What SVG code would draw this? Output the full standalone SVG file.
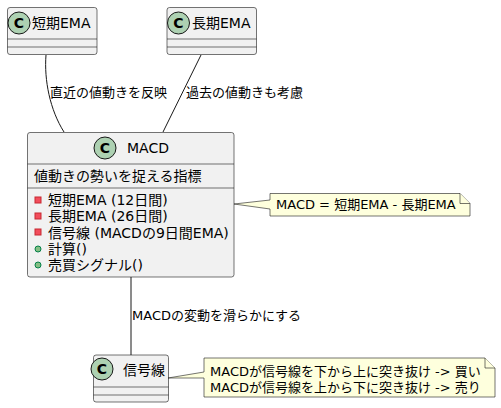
<svg xmlns="http://www.w3.org/2000/svg" width="501" height="408" viewBox="0 0 501 408">
<style>
text{font-family:"DejaVu Sans","Noto Sans CJK JP",sans-serif;fill:#000}
.box{fill:#F1F1F1;stroke:#181818;stroke-width:0.6}
.sep{stroke:#181818;stroke-width:0.6}
.ci{fill:#ADD1B2;stroke:#181818;stroke-width:1}
.cl{font-size:14px;font-weight:bold;text-anchor:middle}
.t14{font-size:14px}
.t13{font-size:13px}
.note{fill:#FEFFDD;stroke:#181818;stroke-width:0.6}
.edge{fill:none;stroke:#181818;stroke-width:1}
.priv{fill:#F24D5C;stroke:#C82930;stroke-width:1}
.pub{fill:#84BE84;stroke:#038048;stroke-width:1}
</style>
<g id="connectors">
<path class="edge" d="M46,55 C44,80 50,110 64,132"/>
<text class="t13" x="50" y="97">直近の値動きを反映</text>
<path class="edge" d="M201,55 L163,132"/>
<text class="t13" x="186" y="97">過去の値動きも考慮</text>
<path class="edge" d="M131,277 L131,355"/>
<text class="t13" x="132" y="320">MACDの変動を滑らかにする</text>
</g>
<g id="short-ema">
<rect class="box" x="7.5" y="7.5" width="89.5" height="47" rx="2.5"/>
<line class="sep" x1="7.5" y1="39" x2="97" y2="39"/>
<line class="sep" x1="7.5" y1="47" x2="97" y2="47"/>
<circle class="ci" cx="19" cy="23" r="11"/>
<text class="cl" x="19" y="28">C</text>
<text class="t14" x="32" y="28">短期EMA</text>
</g>
<g id="long-ema">
<rect class="box" x="167" y="7.5" width="89.5" height="47" rx="2.5"/>
<line class="sep" x1="167" y1="39" x2="256.5" y2="39"/>
<line class="sep" x1="167" y1="47" x2="256.5" y2="47"/>
<circle class="ci" cx="178.5" cy="23" r="11"/>
<text class="cl" x="178.5" y="28">C</text>
<text class="t14" x="192" y="28">長期EMA</text>
</g>
<g id="macd">
<rect class="box" x="27.5" y="132.5" width="206.5" height="144.5" rx="2.5"/>
<line class="sep" x1="27.5" y1="164" x2="234" y2="164"/>
<line class="sep" x1="27.5" y1="188" x2="234" y2="188"/>
<circle class="ci" cx="105" cy="148" r="11"/>
<text class="cl" x="105" y="153">C</text>
<text class="t14" x="127" y="153">MACD</text>
<text class="t14" x="34" y="181">値動きの勢いを捉える指標</text>
<rect class="priv" x="35" y="197" width="6" height="6"/>
<text class="t14" x="48" y="205">短期EMA (12日間)</text>
<rect class="priv" x="35" y="213" width="6" height="6"/>
<text class="t14" x="48" y="221">長期EMA (26日間)</text>
<rect class="priv" x="35" y="229" width="6" height="6"/>
<text class="t14" x="48" y="238">信号線 (MACDの9日間EMA)</text>
<circle class="pub" cx="38" cy="249" r="3"/>
<text class="t14" x="48" y="254">計算()</text>
<circle class="pub" cx="38" cy="265" r="3"/>
<text class="t14" x="48" y="270">売買シグナル()</text>
</g>
<g id="note1">
<path class="note" d="M270,193.5 L460,193.5 L470,203.5 L470,216 L270,216 L270,209 L234,204 L270,200 Z"/>
<path class="note" d="M460,193.5 L460,203.5 L470,203.5"/>
<text class="t13" x="276" y="209">MACD = 短期EMA - 長期EMA</text>
</g>
<g id="signal">
<rect class="box" x="93.5" y="355" width="75" height="47" rx="2.5"/>
<line class="sep" x1="93.5" y1="387" x2="168.5" y2="387"/>
<line class="sep" x1="93.5" y1="395" x2="168.5" y2="395"/>
<circle class="ci" cx="102" cy="369" r="11"/>
<text class="cl" x="102" y="374">C</text>
<text class="t14" x="123" y="375">信号線</text>
</g>
<g id="note2">
<path class="note" d="M204,358 L485,358 L495,368 L495,397 L204,397 L204,378 L168,378 L204,372 Z"/>
<path class="note" d="M485,358 L485,368 L495,368"/>
<text class="t13" x="210" y="376">MACDが信号線を下から上に突き抜け -&gt; 買い</text>
<text class="t13" x="210" y="392">MACDが信号線を上から下に突き抜け -&gt; 売り</text>
</g>
</svg>
